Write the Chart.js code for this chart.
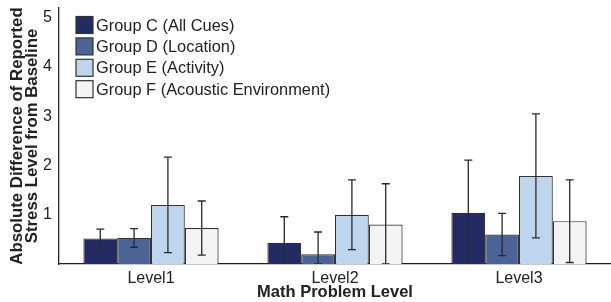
<!DOCTYPE html>
<html>
<head>
<meta charset="utf-8">
<script src="https://cdn.jsdelivr.net/npm/chart.js@4/dist/chart.umd.min.js"></script>
<style>
html,body{margin:0;padding:0;background:#fff;}
#wrap{width:611px;height:302px;}
</style>
</head>
<body>
<div id="wrap"><canvas id="c" width="611" height="302"></canvas></div>
<script>
const categories = ['Level1', 'Level2', 'Level3'];
const seriesLabels = ['Group C (All Cues)', 'Group D (Location)', 'Group E (Activity)', 'Group F (Acoustic Environment)'];
const groupC = [0.52, 0.43, 1.04];
const groupD = [0.53, 0.20, 0.60];
const groupE = [1.20, 1.00, 1.79];
const groupF = [0.73, 0.80, 0.87];
const errC = [0.19, 0.53, 1.07];
const errD = [0.19, 0.45, 0.43];
const errE = [0.97, 0.71, 1.26];
const errF = [0.55, 0.83, 0.84];
const yTicks = [1, 2, 3, 4, 5];

const colors = ['#222b63', '#4b6496', '#bed5ee', '#f4f4f4'];
const FONT = '"Liberation Sans", Arial, sans-serif';

const errorBars = {
  id: 'errorBars',
  afterDatasetsDraw(chart, args, opts) {
    const ctx = chart.ctx, y = chart.scales.y, area = chart.chartArea;
    ctx.save();
    ctx.beginPath();
    ctx.rect(area.left, area.top - 2, area.right - area.left, area.bottom - area.top + 2);
    ctx.clip();
    chart.data.datasets.forEach((ds, i) => {
      const meta = chart.getDatasetMeta(i);
      meta.data.forEach((bar, j) => {
        const v = ds.data[j], e = ds.errors[j];
        const yh = y.getPixelForValue(v + e);
        const yl = Math.min(y.getPixelForValue(v - e), area.bottom);
        ctx.strokeStyle = '#2a2a2a';
        ctx.lineWidth = 1.3;
        ctx.beginPath();
        ctx.moveTo(bar.x, yh); ctx.lineTo(bar.x, yl);
        ctx.moveTo(bar.x - 4, yh); ctx.lineTo(bar.x + 4, yh);
        ctx.moveTo(bar.x - 4, yl); ctx.lineTo(bar.x + 4, yl);
        ctx.stroke();
      });
    });
    ctx.restore();
  }
};

const innerLegend = {
  id: 'innerLegend',
  afterDraw(chart) {
    const ctx = chart.ctx, area = chart.chartArea;
    ctx.save();
    ctx.font = '16.4px ' + FONT;
    ctx.textBaseline = 'middle';
    chart.data.datasets.forEach((ds, i) => {
      const x = area.left + 17, cy = area.top + 17 + i * 21.4;
      ctx.fillStyle = ds.backgroundColor;
      ctx.fillRect(x, cy - 8.5, 17, 17);
      ctx.strokeStyle = '#333';
      ctx.lineWidth = 1.2;
      ctx.strokeRect(x, cy - 8.5, 17, 17);
      ctx.fillStyle = '#222';
      ctx.fillText(ds.label, x + 20, cy + 1);
    });
    ctx.restore();
  }
};

const seriesData = [groupC, groupD, groupE, groupF];
const seriesErr = [errC, errD, errE, errF];

new Chart(document.getElementById('c'), {
  type: 'bar',
  data: {
    labels: categories,
    datasets: seriesLabels.map((lab, i) => ({
      label: lab,
      data: seriesData[i],
      errors: seriesErr[i],
      backgroundColor: colors[i],
      borderColor: '#333',
      borderWidth: 1.2,
      categoryPercentage: 0.735,
      barPercentage: 1.0
    }))
  },
  options: {
    responsive: false,
    animation: false,
    layout: { padding: { top: 8, right: 0, left: 0, bottom: 0 } },
    plugins: { legend: { display: false }, tooltip: { enabled: false } },
    scales: {
      x: {
        grid: { display: false, drawTicks: false },
        border: { color: '#222', width: 1.3 },
        ticks: { font: { family: FONT, size: 16 }, color: '#222', padding: 5 },
        title: { display: true, text: 'Math Problem Level', font: { family: FONT, size: 16.5, weight: 'bold' }, color: '#222', padding: { top: 0, bottom: 0 } },
        afterFit: s => { s.height = 38; s.paddingLeft = 0; s.paddingRight = 0; }
      },
      y: {
        min: 0, max: 5.2,
        grid: { display: false, drawTicks: false },
        border: { color: '#222', width: 1.3 },
        afterBuildTicks: s => { s.ticks = yTicks.map(v => ({ value: v })); },
        ticks: { font: { family: FONT, size: 16, lineHeight: 0.7 }, color: '#222', padding: 7 },
        title: { display: true, text: ['Absolute Difference of Reported', 'Stress Level from Baseline'], font: { family: FONT, size: 16.8, weight: 'bold', lineHeight: 0.9 }, color: '#222', padding: { top: 10, bottom: 0 } },
        afterFit: s => { s.width = 59; s.paddingTop = 0; s.paddingBottom = 0; }
      }
    }
  },
  plugins: [errorBars, innerLegend]
});
</script>
</body>
</html>
